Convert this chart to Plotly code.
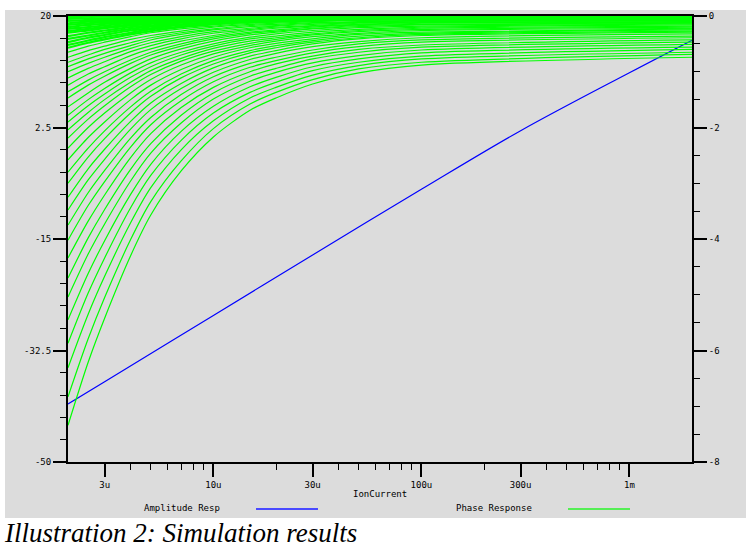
import plotly.graph_objects as go

# ---------------- data ----------------
# x samples (IonCurrent, A) shared by every phase curve
current = [2e-6, 2.5e-6, 3e-6, 4e-6, 5e-6, 7e-6, 1e-5, 1.5e-5, 2e-5, 3e-5, 5e-5, 1e-4, 2e-3]

# Amplitude response (left axis)
amp_current = [2e-6, 3e-6, 1e-5, 3e-5, 1e-4, 3e-4, 1e-3, 2e-3]
amplitude_resp = [-40.9, -37.4, -27.0, -17.5, -7.2, 2.0, 11.1, 16.2]

# Phase response family (right axis), one list per curve, values at `current`
phase_response = [
    [-7.34, -6.21, -5.42, -4.30, -3.57, -2.78, -2.17, -1.69, -1.47, -1.22, -1.02, -0.88, -0.74],
    [-6.83, -5.79, -5.05, -4.01, -3.33, -2.60, -2.02, -1.58, -1.37, -1.14, -0.95, -0.83, -0.69],
    [-6.31, -5.35, -4.67, -3.71, -3.08, -2.40, -1.88, -1.47, -1.28, -1.06, -0.89, -0.77, -0.65],
    [-5.87, -4.97, -4.34, -3.44, -2.86, -2.23, -1.74, -1.37, -1.19, -0.98, -0.83, -0.72, -0.60],
    [-5.45, -4.62, -4.03, -3.20, -2.66, -2.07, -1.62, -1.27, -1.10, -0.91, -0.77, -0.66, -0.56],
    [-5.04, -4.27, -3.73, -2.96, -2.46, -1.92, -1.49, -1.17, -1.01, -0.84, -0.71, -0.61, -0.51],
    [-4.70, -3.98, -3.47, -2.75, -2.29, -1.78, -1.38, -1.08, -0.94, -0.77, -0.65, -0.56, -0.47],
    [-4.34, -3.68, -3.21, -2.54, -2.11, -1.64, -1.28, -1.00, -0.86, -0.72, -0.60, -0.52, -0.43],
    [-4.02, -3.40, -2.97, -2.35, -1.95, -1.52, -1.18, -0.92, -0.80, -0.66, -0.55, -0.47, -0.39],
    [-3.75, -3.17, -2.77, -2.19, -1.82, -1.41, -1.09, -0.85, -0.74, -0.61, -0.50, -0.43, -0.36],
    [-3.48, -2.94, -2.57, -2.03, -1.68, -1.30, -1.01, -0.78, -0.67, -0.55, -0.46, -0.39, -0.32],
    [-3.25, -2.74, -2.39, -1.89, -1.56, -1.21, -0.93, -0.72, -0.62, -0.50, -0.41, -0.35, -0.29],
    [-3.00, -2.53, -2.20, -1.74, -1.44, -1.11, -0.86, -0.66, -0.57, -0.47, -0.39, -0.33, -0.27],
    [-2.80, -2.37, -2.06, -1.63, -1.35, -1.04, -0.80, -0.62, -0.53, -0.44, -0.36, -0.31, -0.25],
    [-2.58, -2.18, -1.90, -1.50, -1.24, -0.96, -0.74, -0.57, -0.49, -0.41, -0.33, -0.29, -0.23],
    [-2.37, -2.00, -1.74, -1.38, -1.14, -0.88, -0.68, -0.53, -0.45, -0.37, -0.31, -0.26, -0.22],
    [-2.19, -1.85, -1.61, -1.27, -1.05, -0.81, -0.63, -0.49, -0.42, -0.34, -0.28, -0.24, -0.20],
    [-2.04, -1.73, -1.50, -1.19, -0.98, -0.76, -0.58, -0.45, -0.39, -0.32, -0.26, -0.22, -0.18],
    [-1.90, -1.61, -1.40, -1.10, -0.91, -0.70, -0.54, -0.41, -0.36, -0.29, -0.24, -0.20, -0.16],
    [-1.78, -1.50, -1.30, -1.02, -0.84, -0.65, -0.50, -0.38, -0.32, -0.26, -0.21, -0.18, -0.14],
    [-1.63, -1.38, -1.19, -0.94, -0.77, -0.59, -0.45, -0.34, -0.29, -0.23, -0.19, -0.16, -0.13],
    [-1.47, -1.24, -1.08, -0.85, -0.70, -0.54, -0.41, -0.31, -0.27, -0.22, -0.17, -0.15, -0.12],
    [-1.36, -1.15, -1.00, -0.79, -0.65, -0.50, -0.38, -0.29, -0.25, -0.20, -0.16, -0.13, -0.11],
    [-1.24, -1.04, -0.91, -0.71, -0.59, -0.45, -0.35, -0.26, -0.22, -0.18, -0.15, -0.12, -0.10],
    [-1.11, -0.94, -0.82, -0.64, -0.53, -0.41, -0.31, -0.24, -0.20, -0.17, -0.13, -0.11, -0.09],
    [-1.00, -0.85, -0.74, -0.58, -0.48, -0.37, -0.28, -0.22, -0.18, -0.15, -0.12, -0.10, -0.08],
    [-0.91, -0.77, -0.67, -0.53, -0.43, -0.33, -0.25, -0.19, -0.17, -0.13, -0.11, -0.09, -0.07],
    [-0.83, -0.70, -0.60, -0.48, -0.39, -0.30, -0.23, -0.17, -0.15, -0.12, -0.10, -0.08, -0.06],
    [-0.74, -0.62, -0.54, -0.42, -0.35, -0.27, -0.20, -0.15, -0.13, -0.10, -0.08, -0.07, -0.05],
    [-0.65, -0.54, -0.47, -0.37, -0.30, -0.23, -0.18, -0.13, -0.11, -0.09, -0.07, -0.06, -0.04],
    [-0.57, -0.48, -0.42, -0.33, -0.27, -0.20, -0.15, -0.11, -0.10, -0.08, -0.06, -0.05, -0.04],
    [-0.52, -0.44, -0.38, -0.30, -0.24, -0.19, -0.14, -0.11, -0.09, -0.07, -0.06, -0.05, -0.04],
    [-0.47, -0.39, -0.34, -0.26, -0.22, -0.16, -0.12, -0.09, -0.08, -0.06, -0.05, -0.04, -0.03],
    [-0.41, -0.35, -0.30, -0.23, -0.19, -0.15, -0.11, -0.08, -0.07, -0.06, -0.04, -0.04, -0.03],
    [-0.36, -0.30, -0.26, -0.20, -0.17, -0.12, -0.09, -0.07, -0.06, -0.04, -0.03, -0.03, -0.02],
    [-0.30, -0.26, -0.22, -0.17, -0.14, -0.11, -0.08, -0.06, -0.05, -0.04, -0.03, -0.03, -0.02],
    [-0.27, -0.23, -0.20, -0.15, -0.13, -0.10, -0.07, -0.05, -0.05, -0.04, -0.03, -0.02, -0.02],
    [-0.23, -0.20, -0.17, -0.13, -0.11, -0.08, -0.06, -0.04, -0.03, -0.03, -0.02, -0.01, -0.01],
    [-0.20, -0.16, -0.14, -0.11, -0.09, -0.07, -0.05, -0.04, -0.03, -0.02, -0.02, -0.01, -0.01],
    [-0.16, -0.13, -0.11, -0.09, -0.07, -0.05, -0.03, -0.02, -0.02, -0.01, -0.01, 0.00, 0.00],
    [-0.13, -0.10, -0.09, -0.07, -0.05, -0.04, -0.03, -0.02, -0.01, -0.01, -0.01, 0.00, 0.00],
    [-0.09, -0.07, -0.06, -0.05, -0.04, -0.03, -0.02, -0.01, -0.01, -0.01, 0.00, 0.00, 0.00],
    [-0.05, -0.04, -0.04, -0.03, -0.02, -0.02, -0.01, -0.01, -0.01, 0.00, 0.00, 0.00, 0.00],
    [-0.02, -0.01, -0.01, -0.01, -0.01, -0.01, 0.00, 0.00, 0.00, 0.00, 0.00, 0.00, 0.00],
]

# tick labels
x_tickvals = [3e-6, 1e-5, 3e-5, 1e-4, 3e-4, 1e-3]
x_ticktext = ["3u", "10u", "30u", "100u", "300u", "1m"]
x_minor = [4e-6, 5e-6, 6e-6, 7e-6, 8e-6, 9e-6, 2e-5, 4e-5, 5e-5, 6e-5, 7e-5, 8e-5, 9e-5,
           2e-4, 4e-4, 5e-4, 6e-4, 7e-4, 8e-4, 9e-4]
y_tickvals = [20, 2.5, -15, -32.5, -50]
y_ticktext = ["20", "2.5", "-15", "-32.5", "-50"]
y2_tickvals = [0, -2, -4, -6, -8]
y2_ticktext = ["0", "-2", "-4", "-6", "-8"]

# ---------------- figure ----------------
BG = "#dcdcdc"
MONO = "DejaVu Sans Mono"
tickfont = dict(family=MONO, size=9, color="black")

fig = go.Figure()
fig.add_trace(go.Scatter(x=amp_current, y=amplitude_resp, mode="lines",
                         line=dict(color="#0000ff", width=1.2, shape="spline", smoothing=1.0),
                         yaxis="y", showlegend=False, hoverinfo="skip"))
for i, row in enumerate(phase_response):
    fig.add_trace(go.Scatter(x=current, y=row, mode="lines", yaxis="y2",
                             line=dict(color="#00ff00", width=1.2 if i < 30 else 2.2,
                                       shape="spline", smoothing=0.8),
                             showlegend=False, hoverinfo="skip"))

W, H = 746, 547
L, R, T, B = 68, 54, 16, 85
pw, ph = W - L - R, H - T - B


def px(xp):
    return (xp - L) / pw


def py(yp):
    return (T + ph - yp) / ph


axis_common = dict(showline=True, linecolor="black", linewidth=2, ticks="outside",
                   ticklen=13, tickwidth=2, tickcolor="black", showgrid=False,
                   zeroline=False, tickfont=tickfont)

left_minor = [-50 + 3.5 * k for k in range(21) if k % 5 != 0]
right_minor = [-8 + 0.5 * k for k in range(17) if k % 4 != 0]

fig.update_layout(
    width=W, height=H, autosize=False,
    margin=dict(l=L, r=R, t=T, b=B, pad=0),
    paper_bgcolor="white", plot_bgcolor=BG,
    xaxis=dict(type="log", range=[-5.69897, -2.69897], tickmode="array",
               tickvals=x_tickvals, ticktext=x_ticktext, mirror=True,
               minor=dict(tickvals=x_minor, ticks="outside", ticklen=6, tickwidth=1,
                          tickcolor="black"),
               **axis_common),
    yaxis=dict(range=[-50, 20], tickmode="array", tickvals=y_tickvals, ticktext=y_ticktext,
               minor=dict(tickvals=left_minor, ticks="outside", ticklen=6, tickwidth=1,
                          tickcolor="black"),
               **axis_common),
    yaxis2=dict(range=[-8, 0], overlaying="y", side="right", tickmode="array",
                tickvals=y2_tickvals, ticktext=y2_ticktext,
                minor=dict(tickvals=right_minor, ticks="outside", ticklen=6, tickwidth=1,
                           tickcolor="black"),
                **axis_common),
    shapes=[
        dict(type="rect", xref="paper", yref="paper", x0=px(5), x1=px(760), y0=py(518), y1=py(10),
             fillcolor=BG, line=dict(width=0), layer="below"),
        dict(type="line", xref="paper", yref="paper", x0=px(256), x1=px(318), y0=py(509), y1=py(509),
             line=dict(color="#4a4aff", width=2)),
        dict(type="line", xref="paper", yref="paper", x0=px(568), x1=px(630), y0=py(509), y1=py(509),
             line=dict(color="#55ee55", width=2)),
    ],
    annotations=[
        dict(text="IonCurrent", xref="paper", yref="paper", x=px(380), y=py(494),
             xanchor="center", yanchor="middle", showarrow=False, font=tickfont),
        dict(text="Amplitude Resp", xref="paper", yref="paper", x=px(182), y=py(508),
             xanchor="center", yanchor="middle", showarrow=False, font=tickfont),
        dict(text="Phase Response", xref="paper", yref="paper", x=px(494), y=py(508),
             xanchor="center", yanchor="middle", showarrow=False, font=tickfont),
        dict(text="<i>Illustration 2: Simulation results</i>", xref="paper", yref="paper",
             x=px(2), y=py(533), xanchor="left", yanchor="middle", showarrow=False,
             font=dict(family="Liberation Serif", size=27, color="black")),
    ],
)

fig.write_html("out.html", config={"displayModeBar": False, "staticPlot": True},
               post_script="document.body.style.margin='0';document.body.style.overflow='hidden';")
